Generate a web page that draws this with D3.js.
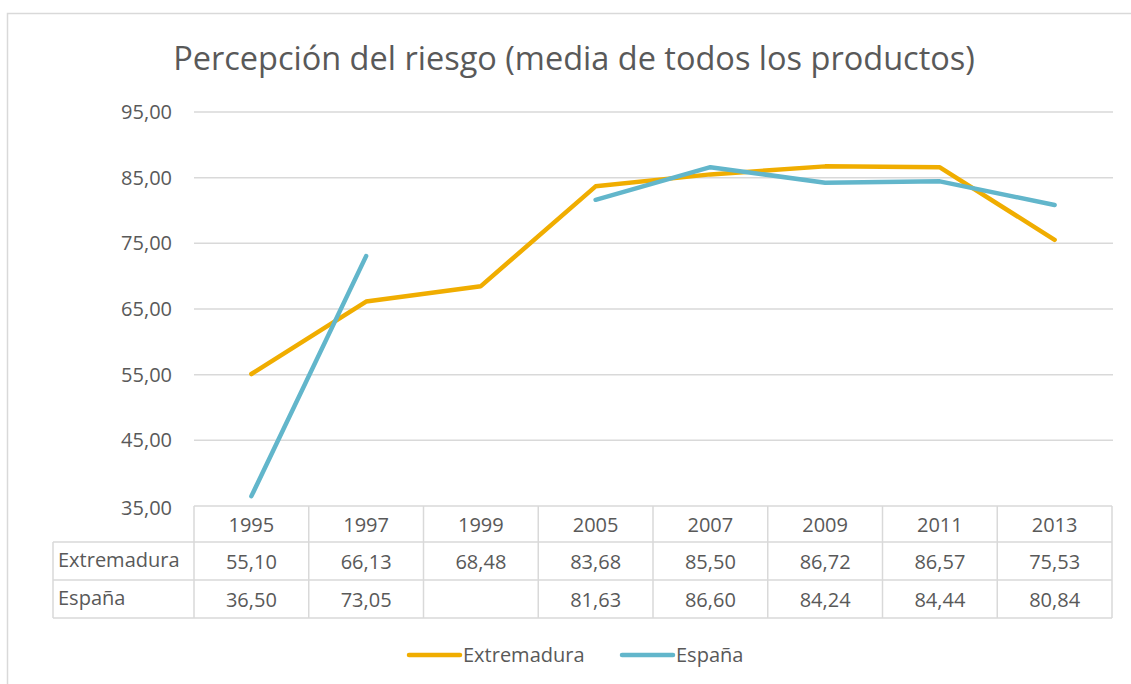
<!DOCTYPE html>
<html>
<head>
<meta charset="utf-8">
<script src="https://cdnjs.cloudflare.com/ajax/libs/d3/7.8.5/d3.min.js"></script>
<style>
  body { margin: 0; background: #fff; }
  svg { display: block; font-family: "Open Sans", Lato, sans-serif; }
</style>
</head>
<body>
<svg id="chart" width="1131" height="684"></svg>
<script>
// chart data
var years = ['1995', '1997', '1999', '2005', '2007', '2009', '2011', '2013'];
var extremadura = [55.10, 66.13, 68.48, 83.68, 85.50, 86.72, 86.57, 75.53];
var espana = [36.50, 73.05, null, 81.63, 86.60, 84.24, 84.44, 80.84];
var yTicks = [35, 45, 55, 65, 75, 85, 95];
var seriesNames = ['Extremadura', 'España'];

var colors = ['#F0AD00', '#62B6CB'];
var textColor = '#595959';
var gridColor = '#D9D9D9';

var fmt = d3.formatLocale({ decimal: ',', thousands: '.', grouping: [3], currency: ['', ''] }).format('.2f');

var svg = d3.select('#chart');

// outer chart border
svg.append('rect')
  .attr('x', 7.5).attr('y', 13.5)
  .attr('width', 1140).attr('height', 700)
  .attr('fill', 'none')
  .attr('stroke', gridColor).attr('stroke-width', 1.5);

svg.append('text')
  .attr('x', 574).attr('y', 70)
  .attr('text-anchor', 'middle')
  .attr('fill', textColor)
  .style('font-size', '32.5px')
  .text('Percepción del riesgo (media de todos los productos)');

var x = d3.scaleBand().domain(years).range([194, 1112]);
var y = d3.scaleLinear().domain([35, 95]).range([506, 112]);

// gridlines
svg.append('g').selectAll('line')
  .data(yTicks.slice(1))
  .enter().append('line')
  .attr('x1', 194).attr('x2', 1113)
  .attr('y1', function(d) { return y(d); })
  .attr('y2', function(d) { return y(d); })
  .attr('stroke', gridColor).attr('stroke-width', 1.5);

// y labels
svg.append('g').selectAll('text')
  .data(yTicks)
  .enter().append('text')
  .attr('x', 172)
  .attr('y', function(d) { return y(d) + (d === 35 ? 2 : 0); })
  .attr('dy', '0.35em')
  .attr('text-anchor', 'end')
  .attr('fill', textColor)
  .style('font-size', '20px')
  .text(function(d) { return fmt(d); });

// data table
var rowTop = [506, 542, 580, 618];
var tableLeft = 53;
var table = svg.append('g').attr('stroke', gridColor).attr('stroke-width', 1.5);
// horizontal lines
table.append('line').attr('x1', 194).attr('x2', 1112).attr('y1', rowTop[0]).attr('y2', rowTop[0]);
rowTop.slice(1).forEach(function(r) {
  table.append('line').attr('x1', tableLeft).attr('x2', 1112).attr('y1', r).attr('y2', r);
});
// vertical lines
table.append('line').attr('x1', tableLeft).attr('x2', tableLeft).attr('y1', rowTop[1]).attr('y2', rowTop[3]);
years.forEach(function(yr) {
  table.append('line').attr('x1', x(yr)).attr('x2', x(yr)).attr('y1', rowTop[0]).attr('y2', rowTop[3]);
});
table.append('line').attr('x1', 1112).attr('x2', 1112).attr('y1', rowTop[0]).attr('y2', rowTop[3]);

var cellText = svg.append('g')
  .attr('fill', textColor)
  .attr('text-anchor', 'middle')
  .style('font-size', '20px');

years.forEach(function(yr, i) {
  var cx = x(yr) + x.bandwidth() / 2;
  cellText.append('text').attr('x', cx).attr('y', (rowTop[0] + rowTop[1]) / 2 + 1).attr('dy', '0.35em').text(yr);
  [extremadura, espana].forEach(function(s, k) {
    if (s[i] == null) return;
    cellText.append('text').attr('x', cx).attr('y', (rowTop[k + 1] + rowTop[k + 2]) / 2 + 1)
      .attr('dy', '0.35em').text(fmt(s[i]));
  });
});

seriesNames.forEach(function(name, k) {
  svg.append('text')
    .attr('x', 58).attr('y', (rowTop[k + 1] + rowTop[k + 2]) / 2 - 1)
    .attr('dy', '0.35em')
    .attr('fill', textColor)
    .style('font-size', '20px')
    .text(name);
});

// lines
var line = d3.line()
  .defined(function(d) { return d != null; })
  .x(function(d, i) { return x(years[i]) + x.bandwidth() / 2; })
  .y(function(d) { return y(d); });

[extremadura, espana].forEach(function(s, k) {
  svg.append('path')
    .attr('d', line(s))
    .attr('fill', 'none')
    .attr('stroke', colors[k])
    .attr('stroke-width', 4.5)
    .attr('stroke-linecap', 'round')
    .attr('stroke-linejoin', 'round');
});

// legend
var legendX = [407, 620];
seriesNames.forEach(function(name, k) {
  var g = svg.append('g').attr('transform', 'translate(' + legendX[k] + ',655)');
  g.append('line').attr('x1', 2).attr('x2', 53).attr('y1', 0).attr('y2', 0)
    .attr('stroke', colors[k]).attr('stroke-width', 4.5).attr('stroke-linecap', 'round');
  g.append('text').attr('x', 56).attr('y', 0).attr('dy', '0.35em')
    .attr('fill', textColor).style('font-size', '20px').text(name);
});
</script>
</body>
</html>
